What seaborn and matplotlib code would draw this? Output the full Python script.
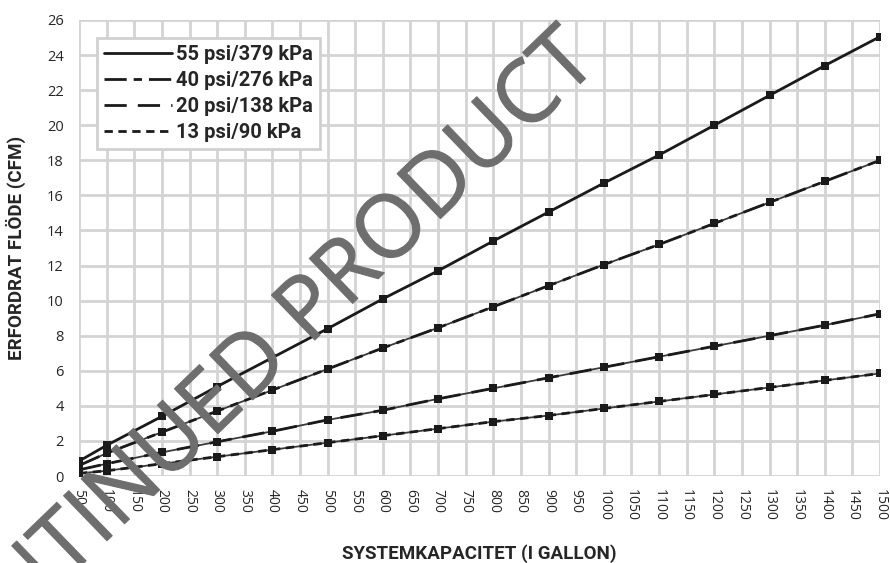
import pandas as pd
import matplotlib
matplotlib.use("Agg")
import matplotlib.pyplot as plt
import matplotlib.patheffects as pe
import seaborn as sns

# x categories (evenly spaced on the axis)
categories = list(range(50, 1501, 50))

# capacities that carry a marker
capacity = [50, 100, 200, 300, 400, 500, 600, 700, 800, 900, 1000, 1100, 1200, 1300, 1400, 1500]

# required flow (CFM) per pressure
cfm_55 = [0.85, 1.75, 3.4, 5.1, 6.75, 8.4, 10.1, 11.7, 13.4, 15.05, 16.7, 18.3, 20.0, 21.7, 23.4, 25.05]
cfm_40 = [0.6, 1.3, 2.5, 3.7, 4.9, 6.1, 7.3, 8.45, 9.65, 10.85, 12.05, 13.2, 14.4, 15.6, 16.8, 18.0]
cfm_20 = [0.35, 0.7, 1.35, 1.95, 2.55, 3.2, 3.75, 4.4, 5.0, 5.6, 6.2, 6.8, 7.4, 8.0, 8.6, 9.25]
cfm_13 = [0.15, 0.3, 0.7, 1.1, 1.5, 1.9, 2.3, 2.7, 3.1, 3.45, 3.85, 4.25, 4.65, 5.05, 5.45, 5.85]

labels = ["55 psi/379 kPa", "40 psi/276 kPa", "20 psi/138 kPa", "13 psi/90 kPa"]
styles = ["-", (0, (8, 2.5, 3, 2.5)), (0, (8, 4)), (0, (3, 2))]

sns.set_style("white")
plt.rcParams["font.family"] = ["Open Sans", "DejaVu Sans"]
bold_font = ["Roboto", "DejaVu Sans"]

fig = plt.figure(figsize=(8.9, 5.63), dpi=100)
ax = fig.add_axes([0.0888, 0.1545, 0.9, 0.81])

pos = [categories.index(c) for c in capacity]
for vals, lab, ls in zip([cfm_55, cfm_40, cfm_20, cfm_13], labels, styles):
    df = pd.DataFrame({"pos": pos, "cfm": vals})
    # thin solid base with the dashed pattern drawn on top
    if ls != "-":
        sns.lineplot(data=df, x="pos", y="cfm", ax=ax, color="#3a3a3a", linewidth=1.3,
                     legend=False, zorder=3)
    sns.lineplot(data=df, x="pos", y="cfm", ax=ax, color="#1a1a1a", linewidth=2.0,
                 linestyle=ls, marker="s", markersize=5.5, markeredgewidth=0,
                 legend=False, zorder=3)

ax.set_xlim(0, len(categories) - 1)
ax.set_ylim(0, 26)
ax.set_xticks(range(len(categories)))
ax.set_xticklabels([str(c) for c in categories], rotation=-90, fontsize=10)
ax.set_yticks(range(0, 27, 2))
ax.tick_params(axis="y", labelsize=10.5, length=5, color="#c8c8c8", width=1.5, pad=6)
ax.tick_params(axis="x", length=5, color="#c8c8c8", width=1.5, pad=4)
ax.grid(True, color="#d4d4d4", linewidth=2)
ax.set_axisbelow(True)
for s in ax.spines.values():
    s.set_visible(False)

ax.set_xlabel("SYSTEMKAPACITET (I GALLON)", fontsize=13.5, fontweight="bold", family=bold_font)
ax.xaxis.set_label_coords(0.5, -0.15)
ax.set_ylabel("ERFORDRAT FLÖDE (CFM)", fontsize=13.5, fontweight="bold", family=bold_font)
ax.yaxis.set_label_coords(-0.066, 0.5)

# legend: lines only, no markers
handles = [plt.Line2D([], [], color="#1a1a1a", linewidth=2.0, linestyle=ls) for ls in styles]
leg = ax.legend(handles, labels, loc="upper left", bbox_to_anchor=(0.022, 0.96),
                prop={"weight": "bold", "size": 14.5, "family": bold_font}, handlelength=3.4,
                handletextpad=0.2, labelspacing=0.35, fancybox=False, framealpha=1,
                borderpad=0.35, borderaxespad=0)
leg.get_frame().set_edgecolor("#d0d0d0")
leg.get_frame().set_linewidth(2)

# watermark
fig.text(0.674, 0.885, "DISCONTINUED PRODUCT", fontsize=63, color="#6e6e6e", alpha=0.92,
         rotation=44, rotation_mode="anchor", ha="right", va="baseline", zorder=10,
         path_effects=[pe.withStroke(linewidth=0.8, foreground="#6e6e6e")])

fig.savefig("out.png", dpi=100)
